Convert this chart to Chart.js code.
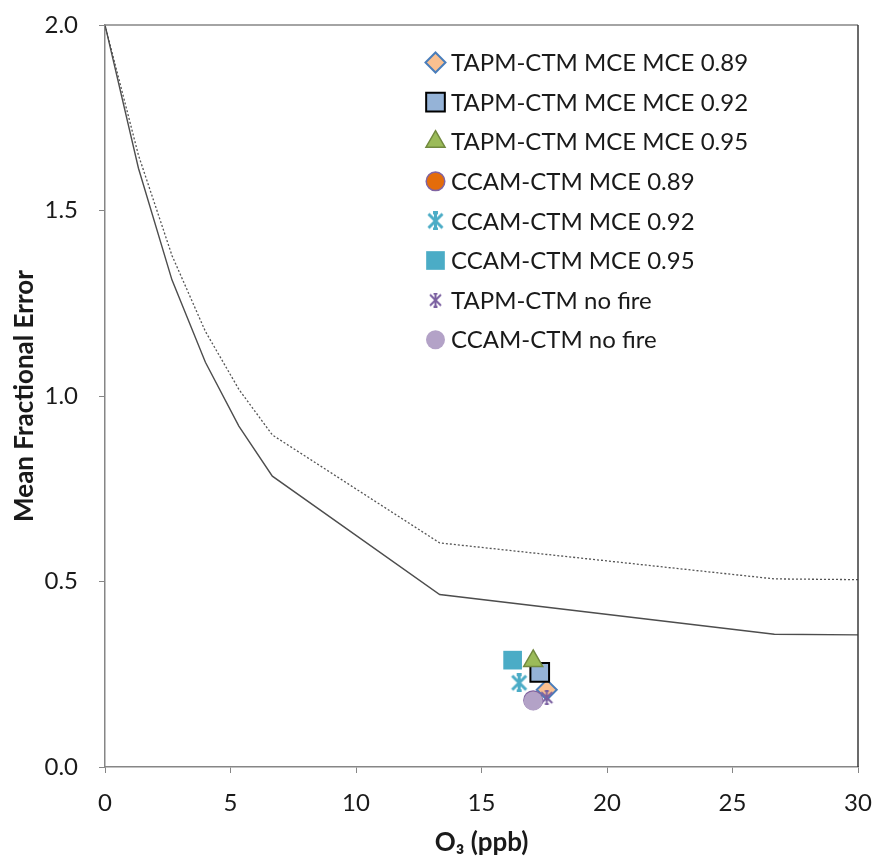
<!DOCTYPE html>
<html>
<head>
<meta charset="utf-8">
<script src="https://cdn.jsdelivr.net/npm/chart.js@4/dist/chart.umd.min.js"></script>
<style>
  html, body { margin: 0; padding: 0; background: #fff; }
  #wrap { width: 874px; height: 859px; position: relative; }
</style>
</head>
<body>
<div id="wrap"><canvas id="c" width="874" height="859"></canvas></div>
<script>
// ---- data ----
const lineX        = [0, 1.333, 2.667, 4, 5.333, 6.667, 13.333, 26.667, 30];
const goalMFE      = [2.0, 1.614, 1.313, 1.091, 0.919, 0.784, 0.465, 0.358, 0.356];
const criteriaMFE  = [2.0, 1.649, 1.379, 1.174, 1.018, 0.895, 0.604, 0.507, 0.505];

const seriesLabels = [
  'TAPM-CTM MCE MCE 0.89',
  'TAPM-CTM MCE MCE 0.92',
  'TAPM-CTM MCE MCE 0.95',
  'CCAM-CTM MCE 0.89',
  'CCAM-CTM MCE 0.92',
  'CCAM-CTM MCE 0.95',
  'TAPM-CTM no fire',
  'CCAM-CTM no fire'
];
const seriesO3  = [17.60, 17.32, 17.06, 17.06, 16.50, 16.24, 17.60, 17.06];
const seriesMFE = [0.208, 0.255, 0.286, 0.180, 0.227, 0.288, 0.187, 0.178];

const xTicks = [0, 5, 10, 15, 20, 25, 30];
const yTicks = [0.0, 0.5, 1.0, 1.5, 2.0];

// ---- styles ----
function starImg(color, size, lw) {
  const c = document.createElement('canvas');
  c.width = size; c.height = size;
  const g = c.getContext('2d');
  g.strokeStyle = color; g.lineWidth = lw; g.lineCap = 'butt';
  const p = lw / 2, s = size, m = s / 2, cap = s * 0.13;
  g.beginPath();
  g.moveTo(m, p); g.lineTo(m, s - p);
  g.moveTo(p + 1, p + 1); g.lineTo(s - p - 1, s - p - 1);
  g.moveTo(s - p - 1, p + 1); g.lineTo(p + 1, s - p - 1);
  g.moveTo(m - cap, p); g.lineTo(m + cap, p);
  g.moveTo(m - cap, s - p); g.lineTo(m + cap, s - p);
  g.stroke();
  return c;
}
const cyanStar = starImg('#4BACC6', 19, 3);
const purpleStar = starImg('#7A5FA0', 15, 2);

const markerStyles = [
  { pointStyle: 'rectRot',  radius: 10,   bg: '#FAC090', border: '#4A7EBB', bw: 2 },
  { pointStyle: 'rect',     radius: 13.2, bg: '#95B3D7', border: '#000000', bw: 2 },
  { pointStyle: 'triangle', radius: 11,   bg: '#9BBB59', border: '#71893F', bw: 1.5 },
  { pointStyle: 'circle',   radius: 9.3,  bg: '#E46C0A', border: '#8064A2', bw: 1.5 },
  { pointStyle: cyanStar,   radius: 9,    bg: '#4BACC6', border: '#4BACC6', bw: 0 },
  { pointStyle: 'rect',     radius: 13.2, bg: '#4BACC6', border: '#4BACC6', bw: 0 },
  { pointStyle: purpleStar, radius: 8,    bg: '#7A5FA0', border: '#7A5FA0', bw: 0 },
  { pointStyle: 'circle',   radius: 9.5,  bg: '#B3A2C7', border: '#B3A2C7', bw: 0 }
];

const FONT = 'Lato, "Open Sans", "DejaVu Sans", sans-serif';

const datasets = [];
seriesLabels.forEach((lab, i) => {
  const st = markerStyles[i];
  datasets.push({
    label: lab,
    data: [{ x: seriesO3[i], y: seriesMFE[i] }],
    showLine: false,
    pointStyle: st.pointStyle,
    pointRadius: st.radius,
    pointHoverRadius: st.radius,
    backgroundColor: st.bg,
    borderColor: st.border,
    pointBorderWidth: st.bw,
    borderWidth: st.bw,
    order: -i
  });
});
datasets.push({
  label: 'goal',
  data: lineX.map((x, i) => ({ x, y: goalMFE[i] })),
  showLine: true, pointRadius: 0, borderColor: '#4D4D4D', borderWidth: 1.4,
  tension: 0, order: 100
});
datasets.push({
  label: 'criteria',
  data: lineX.map((x, i) => ({ x, y: criteriaMFE[i] })),
  showLine: true, pointRadius: 0, borderColor: '#555555', borderWidth: 1.3,
  borderDash: [2, 2], tension: 0, order: 101
});

const frame = {
  id: 'frame',
  afterDatasetsDraw(chart) {
    const { ctx, chartArea: a } = chart;
    ctx.save();
    ctx.lineWidth = 1.5;
    ctx.strokeStyle = '#868686';
    ctx.beginPath();
    ctx.moveTo(a.left, a.top); ctx.lineTo(a.right, a.top);
    ctx.stroke();
    ctx.strokeStyle = '#3A3A3A';
    ctx.beginPath();
    ctx.moveTo(a.right, a.top); ctx.lineTo(a.right, a.bottom);
    ctx.stroke();
    ctx.restore();
  }
};

const legendPlugin = {
  id: 'customLegend',
  afterDraw(chart) {
    const ctx = chart.ctx;
    ctx.save();
    ctx.font = '24px ' + FONT;
    ctx.textBaseline = 'middle';
    ctx.textAlign = 'left';
    seriesLabels.forEach((lab, i) => {
      const st = markerStyles[i];
      const y = 62.5 + i * 39.6;
      const x = 435.5;
      ctx.fillStyle = st.bg;
      ctx.strokeStyle = st.border;
      ctx.lineWidth = st.bw;
      Chart.helpers.drawPoint(ctx, {
        pointStyle: st.pointStyle, radius: st.radius, rotation: 0, borderWidth: st.bw
      }, x, y);
      ctx.fillStyle = '#1A1A1A';
      ctx.fillText(lab, 451, y + 1);
    });
    ctx.restore();
  }
};

new Chart(document.getElementById('c'), {
  type: 'scatter',
  data: { datasets },
  options: {
    responsive: false,
    animation: false,
    devicePixelRatio: 1,
    layout: { padding: { top: 25, right: 16, left: 0, bottom: 0 } },
    plugins: { legend: { display: false }, tooltip: { enabled: false } },
    scales: {
      x: {
        type: 'linear', min: 0, max: 30,
        afterBuildTicks(s) { s.ticks = xTicks.map(v => ({ value: v })); },
        afterFit(s) { s.height = 92; s.paddingLeft = 0; s.paddingRight = 0; },
        grid: { display: true, drawOnChartArea: false, drawTicks: true, tickLength: 6, color: '#868686', lineWidth: 1 },
        border: { display: true, color: '#868686', width: 1.5 },
        ticks: { color: '#1A1A1A', font: { family: FONT, size: 24 }, padding: 16, maxRotation: 0,
                 callback: v => String(v) },
        title: { display: true, text: 'O₃ (ppb)', color: '#1A1A1A',
                 font: { family: FONT, size: 26, weight: 'bold' }, padding: { top: 0, bottom: 1 } }
      },
      y: {
        type: 'linear', min: 0, max: 2,
        afterBuildTicks(s) { s.ticks = yTicks.map(v => ({ value: v })); },
        afterFit(s) { s.width = 105; s.paddingTop = 0; s.paddingBottom = 0; },
        grid: { display: true, drawOnChartArea: false, drawTicks: true, tickLength: 6, color: '#868686', lineWidth: 1 },
        border: { display: true, color: '#868686', width: 1.5 },
        ticks: { color: '#1A1A1A', font: { family: FONT, size: 24 }, padding: 21,
                 callback: v => v.toFixed(1) },
        title: { display: true, text: 'Mean Fractional Error', color: '#1A1A1A',
                 font: { family: FONT, size: 26, weight: 'bold' }, padding: { top: 9, bottom: 0 } }
      }
    }
  },
  plugins: [frame, legendPlugin]
});
</script>
</body>
</html>
